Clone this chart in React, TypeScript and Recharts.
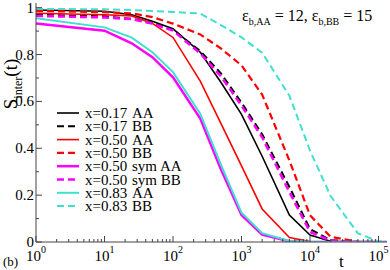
import React from "react";
import { LineChart, Line, XAxis, YAxis, Customized } from "recharts";

const FONT = "'Liberation Serif', 'DejaVu Serif', serif";

// sampled times (log axis)
const times = [1, 10, 25, 50, 100, 250, 500, 1000, 2000, 5000, 1e4, 2e4, 5e4, 1e5, 1.3e5];

const x17AA = [0.99, 0.985, 0.97, 0.942, 0.91, 0.81, 0.682, 0.545, 0.366, 0.115, 0.03, 0.003, 0, 0, 0];
const x17BB = [0.97, 0.963, 0.952, 0.935, 0.905, 0.815, 0.72, 0.595, 0.46, 0.235, 0.055, 0.008, 0, 0, 0];
const x50AA = [0.976, 0.97, 0.965, 0.933, 0.873, 0.687, 0.506, 0.325, 0.141, 0.019, 0.002, 0, 0, 0, 0];
const x50BB = [0.986, 0.981, 0.976, 0.96, 0.932, 0.886, 0.826, 0.754, 0.629, 0.348, 0.114, 0.022, 0.001, 0, 0];
const x50symAA = [0.933, 0.902, 0.848, 0.789, 0.703, 0.527, 0.31, 0.115, 0.032, 0.003, 0, 0, 0, 0, 0];
const x50symBB = [0.965, 0.958, 0.951, 0.932, 0.902, 0.805, 0.707, 0.582, 0.447, 0.213, 0.043, 0.006, 0, 0, 0];
const x83AA = [0.955, 0.916, 0.872, 0.81, 0.725, 0.548, 0.33, 0.125, 0.038, 0.004, 0.001, 0, 0, 0, 0];
const x83BB = [0.995, 0.993, 0.99, 0.986, 0.982, 0.975, 0.926, 0.873, 0.808, 0.624, 0.39, 0.196, 0.037, 0.002, 0];

const xMajor = [1, 10, 100, 1000, 1e4, 1e5];
const xTicks = xMajor.flatMap((m) => [1, 2, 3, 4, 5, 6, 7, 8, 9].map((k) => k * m)).filter((v) => v <= 1.33e5);
const yTicks = [0, 0.1, 0.2, 0.3, 0.4, 0.5, 0.6, 0.7, 0.8, 0.9, 1];
const yLabels: Record<string, string> = { "0": "0", "0.2": "0.2", "0.4": "0.4", "0.6": "0.6", "0.8": "0.8", "1": "1" };

const series = [
  { key: "x17AA", name: "x=0.17", kind: "AA", values: x17AA, color: "#000000", width: 1.6, dash: undefined },
  { key: "x17BB", name: "x=0.17", kind: "BB", values: x17BB, color: "#000000", width: 2, dash: "7 4" },
  { key: "x50AA", name: "x=0.50", kind: "AA", values: x50AA, color: "#ff0000", width: 1.6, dash: undefined },
  { key: "x50BB", name: "x=0.50", kind: "BB", values: x50BB, color: "#ff0000", width: 2.2, dash: "7 4" },
  { key: "x50symAA", name: "x=0.50", kind: "sym AA", values: x50symAA, color: "#ff00ff", width: 2.5, dash: undefined },
  { key: "x50symBB", name: "x=0.50", kind: "sym BB", values: x50symBB, color: "#ff00ff", width: 2.5, dash: "7 4" },
  { key: "x83AA", name: "x=0.83", kind: "AA", values: x83AA, color: "#40e0d0", width: 2, dash: undefined },
  { key: "x83BB", name: "x=0.83", kind: "BB", values: x83BB, color: "#40e0d0", width: 2, dash: "7 4" },
];

const data = times.map((t, i) => {
  const row: Record<string, number> = { t };
  series.forEach((s) => (row[s.key] = s.values[i]));
  return row;
});

const AXIS = "#444";
const isMajor = (v: number) => Math.abs(Math.log10(v) - Math.round(Math.log10(v))) < 1e-9;

// eslint-disable-next-line @typescript-eslint/no-explicit-any
const BottomTick = ({ x, y, payload }: any) => {
  const v = payload.value as number;
  const major = isMajor(v);
  return (
    <g>
      <line x1={x} x2={x} y1={y} y2={y - (major ? 6 : 3)} stroke={AXIS} />
      {major && (
        <text x={x} y={y + 19} textAnchor="middle" fontFamily={FONT} fontSize={15} fill="#000">
          10
          <tspan dy={-8} fontSize={10}>
            {Math.round(Math.log10(v))}
          </tspan>
        </text>
      )}
    </g>
  );
};

// eslint-disable-next-line @typescript-eslint/no-explicit-any
const TopTick = ({ x, y, payload }: any) => {
  const major = isMajor(payload.value);
  return <line x1={x} x2={x} y1={y} y2={y + (major ? 6 : 3)} stroke={AXIS} />;
};

// eslint-disable-next-line @typescript-eslint/no-explicit-any
const LeftTick = ({ x, y, payload }: any) => {
  const key = String(Math.round(payload.value * 10) / 10);
  const label = yLabels[key];
  return (
    <g>
      <line x1={x} x2={x + (label ? 6 : 3)} y1={y} y2={y} stroke={AXIS} />
      {label && (
        <text x={x - 2} y={y + 5} textAnchor="end" fontFamily={FONT} fontSize={15} fill="#000">
          {label}
        </text>
      )}
    </g>
  );
};

// eslint-disable-next-line @typescript-eslint/no-explicit-any
const RightTick = ({ x, y, payload }: any) => {
  const key = String(Math.round(payload.value * 10) / 10);
  return <line x1={x} x2={x - (yLabels[key] ? 6 : 3)} y1={y} y2={y} stroke={AXIS} />;
};

const Extras = () => (
  <g fontFamily={FONT} fill="#000">
    <text transform="translate(17,84) rotate(-90)" textAnchor="middle" fontSize={19}>
      S
      <tspan dy={5} fontSize={12}>
        inter
      </tspan>
      <tspan dy={-5}>(t)</tspan>
    </text>
    <text x={242} y={21} fontSize={16}>
      ε
      <tspan dy={4} fontSize={10}>
        b,AA
      </tspan>
      <tspan dy={-4}> = 12,  ε</tspan>
      <tspan dy={4} fontSize={10}>
        b,BB
      </tspan>
      <tspan dy={-4}> = 15</tspan>
    </text>
    <text x={3} y={266} fontSize={13}>
      (b)
    </text>
    <text x={339} y={267} fontSize={17}>
      t
    </text>
    {series.map((s, i) => {
      const y = 113 + i * 13.3;
      return (
        <g key={s.key}>
          <line x1={57} x2={79} y1={y} y2={y} stroke={s.color} strokeWidth={s.width} strokeDasharray={s.dash} />
          <text x={85} y={y + 5} fontSize={15}>
            {s.name}
            <tspan x={132}>{s.kind}</tspan>
          </text>
        </g>
      );
    })}
  </g>
);

export default function App() {
  return (
    <div style={{ position: "absolute", left: 0, top: 0, fontFamily: FONT }}>
      <LineChart width={390} height={270} data={data} margin={{ top: 3, right: 3, left: 0, bottom: 0 }}>
        <XAxis
          dataKey="t"
          type="number"
          scale="log"
          domain={[1, 1.33e5]}
          ticks={xTicks}
          interval={0}
          height={28}
          tickSize={0}
          tickMargin={0}
          tickLine={false}
          tick={BottomTick}
          axisLine={{ stroke: AXIS }}
          allowDataOverflow
        />
        <XAxis
          xAxisId="top"
          orientation="top"
          dataKey="t"
          type="number"
          scale="log"
          domain={[1, 1.33e5]}
          ticks={xTicks}
          interval={0}
          height={0}
          tickSize={0}
          tickMargin={0}
          tickLine={false}
          tick={TopTick}
          axisLine={{ stroke: AXIS }}
          allowDataOverflow
        />
        <YAxis
          type="number"
          domain={[0, 1.02]}
          ticks={yTicks}
          interval={0}
          width={36}
          tickSize={0}
          tickMargin={0}
          tickLine={false}
          tick={LeftTick}
          axisLine={{ stroke: AXIS }}
          allowDataOverflow
        />
        <YAxis
          yAxisId="right"
          orientation="right"
          type="number"
          domain={[0, 1.02]}
          ticks={yTicks}
          interval={0}
          width={0}
          tickSize={0}
          tickMargin={0}
          tickLine={false}
          tick={RightTick}
          axisLine={{ stroke: AXIS }}
          allowDataOverflow
        />
        {series.map((s) => (
          <Line
            key={s.key}
            dataKey={s.key}
            stroke={s.color}
            strokeWidth={s.width}
            strokeDasharray={s.dash}
            dot={false}
            activeDot={false}
            isAnimationActive={false}
          />
        ))}
        <Customized component={Extras} />
      </LineChart>
    </div>
  );
}
